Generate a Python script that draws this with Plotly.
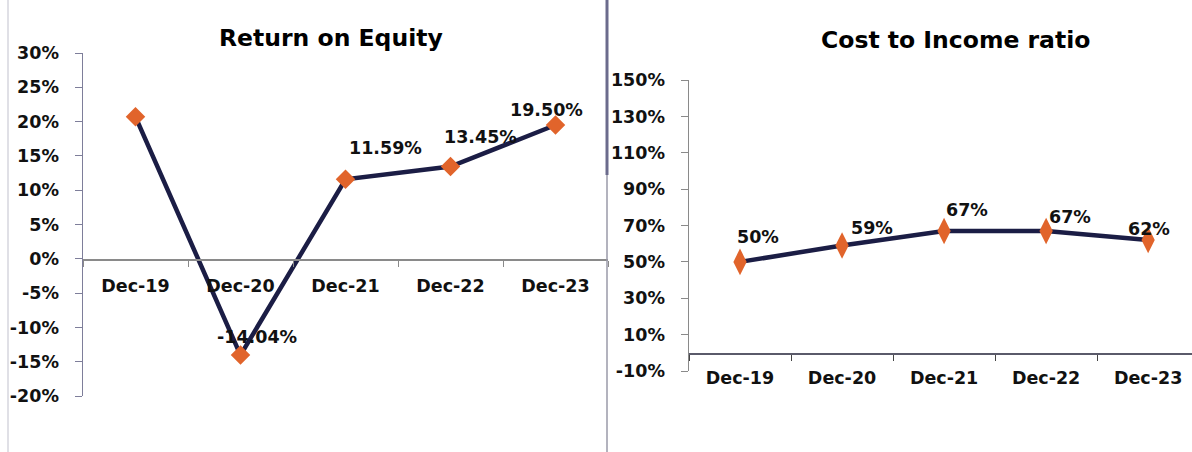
import plotly.graph_objects as go

# ---------------- data ----------------
categories = ["Dec-19", "Dec-20", "Dec-21", "Dec-22", "Dec-23"]

roe_values = [0.207, -0.1404, 0.1159, 0.1345, 0.1950]
roe_labels = ["", "-14.04%", "11.59%", "13.45%", "19.50%"]
roe_tickvals = [-0.20, -0.15, -0.10, -0.05, 0.0, 0.05, 0.10, 0.15, 0.20, 0.25, 0.30]
roe_ticktext = ["-20%", "-15%", "-10%", "-5%", "0%", "5%", "10%", "15%", "20%", "25%", "30%"]

cti_values = [0.50, 0.59, 0.67, 0.67, 0.62]
cti_labels = ["50%", "59%", "67%", "67%", "62%"]
cti_tickvals = [-0.10, 0.10, 0.30, 0.50, 0.70, 0.90, 1.10, 1.30, 1.50]
cti_ticktext = ["-10%", "10%", "30%", "50%", "70%", "90%", "110%", "130%", "150%"]

titles = ["Return on Equity", "Cost to Income ratio"]

# ---------------- styles ----------------
W, H = 1192, 452
LINE = "#1b1d45"
MARK = "#e1642b"
FONT = "DejaVu Sans"
roe_shift = [(0, 0), (16, 18), (40, 31), (30, 30), (-9, 15)]
cti_shift = [(18, 25), (30, 18), (23, 21), (24, 14), (1, 11)]


def px(x):
    return x / W


def py(y):
    return 1 - y / H


fig = go.Figure()
fig.add_trace(go.Scatter(
    x=categories, y=roe_values, mode="lines+markers",
    line=dict(color=LINE, width=4.5),
    marker=dict(symbol="diamond", size=15, color=MARK),
    xaxis="x", yaxis="y", showlegend=False, hoverinfo="skip"))
fig.add_trace(go.Scatter(
    x=categories, y=cti_values, mode="lines+markers",
    line=dict(color=LINE, width=4.5),
    marker=dict(symbol="diamond-tall", size=19, color=MARK),
    xaxis="x2", yaxis="y2", showlegend=False, hoverinfo="skip"))

tickfont = dict(family=FONT, size=17.5, color="#111111", weight="bold")
labfont = dict(family=FONT, size=17.5, color="#111111", weight="bold")
titlefont = dict(family=FONT, size=23.5, color="#000000", weight="bold")

fig.update_layout(
    width=W, height=H,
    margin=dict(l=0, r=0, t=0, b=0, autoexpand=False),
    paper_bgcolor="white", plot_bgcolor="white",
    xaxis=dict(domain=[px(83), px(608)], range=[-0.5, 4.5], type="category",
               anchor="free", position=py(259), automargin=False,
               showline=True, linecolor="#8a8a8a", linewidth=1.5,
               ticks="outside", tickson="boundaries", ticklen=6, tickcolor="#8a8a8a",
               ticklabelstandoff=10, tickfont=tickfont, showgrid=False, zeroline=False),
    yaxis=dict(domain=[py(396), py(53)], range=[-0.20, 0.30], automargin=False,
               tickvals=roe_tickvals, ticktext=roe_ticktext,
               showline=True, linecolor="#7e7e9a", linewidth=1.5,
               ticks="outside", ticklen=7, tickcolor="#7e7e9a",
               ticklabelstandoff=12, tickfont=tickfont, showgrid=False, zeroline=False),
    xaxis2=dict(domain=[px(689), 1.0], range=[-0.5, 4.43], type="category",
                anchor="free", position=py(353), automargin=False,
                showline=True, linecolor="#5a5a6a", linewidth=1.5,
                ticks="outside", tickson="boundaries", ticklen=6, tickcolor="#444444",
                ticklabelstandoff=8, tickfont=tickfont, showgrid=False, zeroline=False),
    yaxis2=dict(domain=[py(371), py(80)], range=[-0.10, 1.50], automargin=False,
                tickvals=cti_tickvals, ticktext=cti_ticktext, anchor="x2",
                showline=True, linecolor="#8a8a8a", linewidth=1.5,
                ticks="outside", ticklen=7, tickcolor="#8a8a8a",
                ticklabelstandoff=12, tickfont=tickfont, showgrid=False, zeroline=False),
)

annotations = []
for cat, val, lab, (dx, dy) in zip(categories, roe_values, roe_labels, roe_shift):
    if lab:
        annotations.append(dict(x=cat, y=val, xref="x", yref="y", text=lab,
                                showarrow=False, xshift=dx, yshift=dy, font=labfont))
for cat, val, lab, (dx, dy) in zip(categories, cti_values, cti_labels, cti_shift):
    annotations.append(dict(x=cat, y=val, xref="x2", yref="y2", text=lab,
                            showarrow=False, xshift=dx, yshift=dy, font=labfont))
annotations.append(dict(x=px(331), y=py(38), xref="paper", yref="paper", text=titles[0],
                        showarrow=False, xanchor="center", yanchor="middle", font=titlefont))
annotations.append(dict(x=px(955), y=py(40), xref="paper", yref="paper", text=titles[1],
                        showarrow=False, xanchor="center", yanchor="middle", font=titlefont))
fig.update_layout(annotations=annotations)

fig.update_layout(shapes=[
    dict(type="line", xref="paper", yref="paper", x0=px(8), x1=px(8), y0=0, y1=1,
         line=dict(color="#d6d6de", width=1.5)),
    dict(type="line", xref="paper", yref="paper", x0=px(607), x1=px(607), y0=py(175), y1=1,
         line=dict(color="#6b6b8c", width=3)),
    dict(type="line", xref="paper", yref="paper", x0=px(607), x1=px(607), y0=0, y1=py(175),
         line=dict(color="#9a9aa8", width=1.5)),
])

fig.write_html("out.html", config={"displayModeBar": False, "staticPlot": True},
               post_script="document.body.style.margin='0';document.body.style.overflow='hidden';")
